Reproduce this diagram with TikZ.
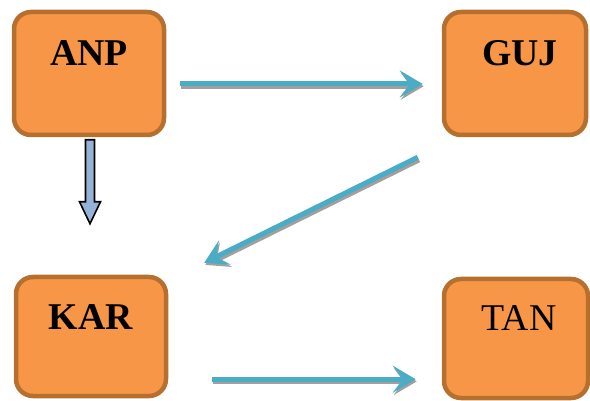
\documentclass[tikz,border=0pt]{standalone}
\usepackage{fontspec}
\setmainfont{Liberation Serif}
\usetikzlibrary{arrows.meta,positioning}
\definecolor{orangebloc}{HTML}{F79646}
\definecolor{bordbloc}{HTML}{B5702F}
\definecolor{bleufleche}{HTML}{4BACC6}
\definecolor{ombre}{HTML}{A0A0A0}
\definecolor{bleubloc}{HTML}{95B3D7}
\begin{document}
\begin{tikzpicture}[
      x=1pt, y=-1pt,
      bloc/.style={
        draw=bordbloc,
        fill=orangebloc,
        line width=4.5pt,
        rounded corners=17pt,
        minimum width=150pt,
        minimum height=123pt
      },
      titre/.style={
        anchor=north,
        inner sep=0pt,
        yshift=-30.5pt,
        font=\fontsize{37.8}{40}\selectfont
      },
      fleche/.style={
        draw=bleufleche,
        line width=5pt,
        -{Stealth[length=23pt,width=27pt,inset=10pt]},
        preaction={draw=ombre, line width=6pt, transform canvas={shift={(1pt,-2.2pt)}}}
      },
      descente/.style={
        draw=black,
        fill=bleubloc,
        line width=1.6pt
      }
    ]
    \useasboundingbox (0,0) rectangle (590,401);
    \node[bloc] (anp) at (89,73.5) {} ;
    \node[bloc, minimum width=142pt] (guj) at (515,73.5) {} ;
    \node[bloc, minimum height=119pt] (kar) at (91,336.5) {} ;
    \node[bloc, minimum width=144pt, minimum height=119pt] (tan) at (516,338.5) {} ;
    \node[titre] (anpt) at (anp.north) {\textbf{ANP}} ;
    \node[titre, xshift=5pt] (gujt) at (guj.north) {\textbf{GUJ}} ;
    \node[titre, yshift=1pt] (kart) at (kar.north) {\textbf{KAR}} ;
    \node[titre, xshift=3pt, yshift=2pt] (tant) at (tan.north) {TAN} ;

    \draw[fleche] ([xshift=14pt,yshift=-10.5pt]anp.east) -- ([xshift=-19pt,yshift=-10.5pt]guj.west) ;
    \draw[fleche] ([xshift=-24pt,yshift=-20pt]guj.south west) -- ([xshift=36pt,yshift=12pt]kar.north east) ;
    \draw[fleche] ([xshift=44pt,yshift=19pt]kar.south east) -- ([xshift=-26pt,yshift=21pt]tan.south west) ;
    \draw[descente] ([xshift=-3.5pt,yshift=-2.5pt]anp.south) -- ++(0,62) -- ++(-6,0)
      -- ++(10.5,22) -- ++(10.5,-22) -- ++(-6,0) -- ++(0,-62) -- cycle ;
  \end{tikzpicture}
\end{document}
